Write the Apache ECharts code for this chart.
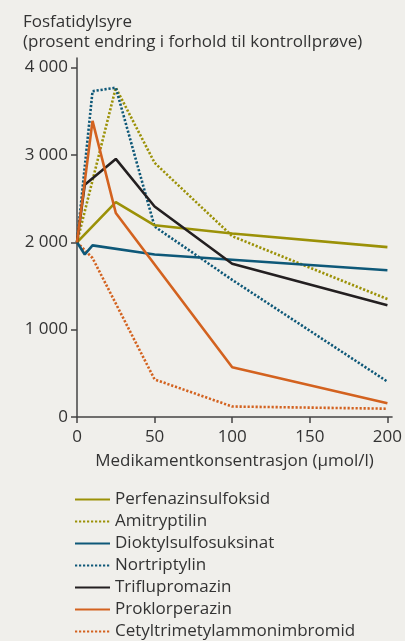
<!DOCTYPE html>
<html>
<head>
<meta charset="utf-8">
<script src="https://cdn.jsdelivr.net/npm/echarts@6/dist/echarts.min.js"></script>
<style>
  html, body { margin: 0; padding: 0; background: #f0efeb; }
  #chart { width: 405px; height: 641px; }
</style>
</head>
<body>
<div id="chart"></div>
<script>
// data (x = µmol/l, y = % of control)
const names = ['Perfenazinsulfoksid', 'Amitryptilin', 'Dioktylsulfosuksinat', 'Nortriptylin', 'Triflupromazin', 'Proklorperazin', 'Cetyltrimetylammonimbromid'];

const perfenazinX = [0, 25, 50, 100, 200];
const perfenazinY = [2000, 2460, 2195, 2100, 1945];

const amitryptilinX = [0, 25, 50, 100, 200];
const amitryptilinY = [2000, 3770, 2910, 2070, 1350];

const dioktylX = [0, 5, 10, 50, 100, 200];
const dioktylY = [2000, 1860, 1965, 1860, 1800, 1680];

const nortriptylinX = [0, 10, 25, 50, 100, 200];
const nortriptylinY = [2000, 3730, 3770, 2180, 1570, 405];

const triflupromazinX = [0, 5, 25, 50, 100, 200];
const triflupromazinY = [2000, 2660, 2955, 2410, 1755, 1280];

const proklorperazinX = [0, 10, 25, 100, 200];
const proklorperazinY = [2000, 3390, 2335, 570, 157];

const cetylX = [0, 10, 50, 100, 200];
const cetylY = [2000, 1820, 430, 120, 95];

const yTicks = [0, 1000, 2000, 3000, 4000];
const xTicks = [0, 50, 100, 150, 200];

const olive = '#9b9107';
const blue = '#0e5878';
const black = '#231f20';
const orange = '#d3621f';

function pairs(xs, ys) {
  return xs.map((x, i) => [x, ys[i]]);
}

function line(name, xs, ys, color, dotted) {
  return {
    name: name,
    type: 'line',
    data: pairs(xs, ys),
    symbol: 'none',
    color: color,
    lineStyle: {
      color: color,
      width: 2.6,
      type: dotted ? [2.2, 1.8] : 'solid'
    },
    z: dotted ? 2 : 3
  };
}

const chart = echarts.init(document.getElementById('chart'));
const textColor = '#333';
const fontFamily = '"Open Sans", "Liberation Sans", sans-serif';
const fs = 17;

chart.setOption({
  backgroundColor: '#f0efeb',
  animation: false,
  textStyle: { fontFamily: fontFamily },
  title: {
    text: 'Fosfatidylsyre\n(prosent endring i forhold til kontrollprøve)',
    left: 23,
    top: 12,
    padding: 0,
    textStyle: { fontSize: fs, fontWeight: 'normal', color: textColor, lineHeight: 20, fontFamily: fontFamily }
  },
  grid: { left: 77, top: 58, right: 3.5, bottom: 224, containLabel: false },
  xAxis: {
    type: 'value',
    min: 0,
    max: 203,
    interval: 50,
    name: 'Medikamentkonsentrasjon (µmol/l)',
    nameLocation: 'middle',
    nameGap: 36,
    nameTextStyle: { fontSize: fs, color: textColor, fontFamily: fontFamily },
    splitLine: { show: false },
    axisLine: { lineStyle: { color: '#444', width: 1.5 } },
    axisTick: { show: true, length: 6, customValues: xTicks, lineStyle: { color: '#444', width: 1.5 } },
    axisLabel: { customValues: xTicks, fontSize: fs, color: textColor, margin: 12, fontFamily: fontFamily }
  },
  yAxis: {
    type: 'value',
    min: 0,
    max: 4110,
    interval: 1000,
    splitLine: { show: false },
    axisLine: { show: true, lineStyle: { color: '#444', width: 1.5 } },
    axisTick: { show: true, length: 6, customValues: yTicks, lineStyle: { color: '#444', width: 1.5 } },
    axisLabel: {
      customValues: yTicks,
      fontSize: fs,
      color: textColor,
      margin: 9,
      fontFamily: fontFamily,
      formatter: v => v >= 1000 ? Math.floor(v / 1000) + ' 000' : String(v)
    }
  },
  legend: {
    orient: 'vertical',
    left: 74,
    top: 491,
    height: 220,
    padding: 0,
    itemWidth: 35,
    itemHeight: 12,
    itemGap: 5,
    itemStyle: { opacity: 0 },
    textStyle: { fontSize: fs, color: textColor, fontFamily: fontFamily, lineHeight: 16 },
    data: names
  },
  series: [
    line(names[0], perfenazinX, perfenazinY, olive, false),
    line(names[1], amitryptilinX, amitryptilinY, olive, true),
    line(names[2], dioktylX, dioktylY, blue, false),
    line(names[3], nortriptylinX, nortriptylinY, blue, true),
    line(names[4], triflupromazinX, triflupromazinY, black, false),
    line(names[5], proklorperazinX, proklorperazinY, orange, false),
    line(names[6], cetylX, cetylY, orange, true)
  ]
});
</script>
</body>
</html>
